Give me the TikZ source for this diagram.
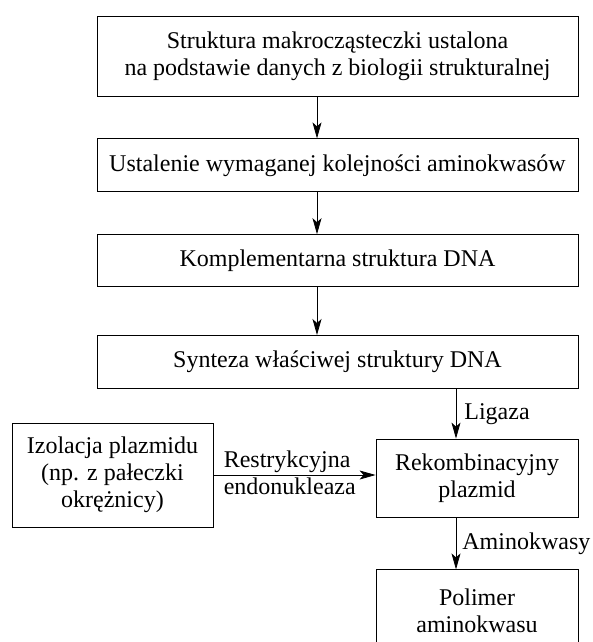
\documentclass[tikz,border=0pt]{standalone}
\usepackage{fontspec}
\setmainfont{Liberation Serif}
\usetikzlibrary{arrows.meta, positioning}

\begin{document}
\begin{tikzpicture}[x=1pt, y=1pt, >={Stealth[length=16pt, width=9pt, inset=4pt]}, line width=0.8pt,
    box/.style={draw, rectangle, align=center, inner sep=0pt, font=\fontsize{24}{27}\selectfont},
    wide/.style={box, minimum width=481pt},
    lbl/.style={font=\fontsize{24}{27}\selectfont, inner sep=2pt}]

    \useasboundingbox (0,0) rectangle (592,-642);

    % Glowny ciag
    \node[wide, minimum height=80pt] (struct) at (337.5,-56) {Struktura makrocząsteczki ustalona\\na podstawie danych z biologii strukturalnej};
    \node[wide, minimum height=53pt, below=42pt of struct] (order) {Ustalenie wymaganej kolejności aminokwasów};
    \node[wide, minimum height=52pt, below=42pt of order] (compl) {Komplementarna struktura DNA};
    \node[wide, minimum height=53pt, below=48pt of compl] (synth) {Synteza właściwej struktury DNA};

    % Plazmid
    \node[box, minimum width=201pt, minimum height=104pt] (isol) at (112.5,-475) {Izolacja plazmidu\\(np. z pałeczki\\okrężnicy)};
    \node[box, minimum width=202pt, minimum height=78pt] (recomb) at (477,-478) {Rekombinacyjny\\plazmid};
    \node[box, minimum width=202pt, minimum height=82pt, below=52pt of recomb] (polymer) {Polimer\\aminokwasu};

    \coordinate (recin) at ([xshift=-21pt]recomb.north);
    \coordinate (polin) at ([xshift=-21pt]polymer.north);

    % Strzalki
    \draw[->] ([xshift=-20.5pt]struct.south) -- ([xshift=-20.5pt]order.north);
    \draw[->] ([xshift=-20.5pt]order.south) -- ([xshift=-20.5pt]compl.north);
    \draw[->] ([xshift=-20.5pt]compl.south) -- ([xshift=-20.5pt]synth.north);
    \draw[->] (recin |- synth.south) -- node[lbl, right=6pt] {Ligaza} (recin);
    \draw[->] (isol.east) -- (isol.east -| recomb.west)
        node[lbl, pos=0, above right=0pt and 8pt] {Restrykcyjna}
        node[lbl, pos=0, below right=0pt and 8pt] {endonukleaza};
    \draw[->] (polin |- recomb.south) -- node[lbl, right=4pt] {Aminokwasy} (polin);

\end{tikzpicture}
\end{document}
